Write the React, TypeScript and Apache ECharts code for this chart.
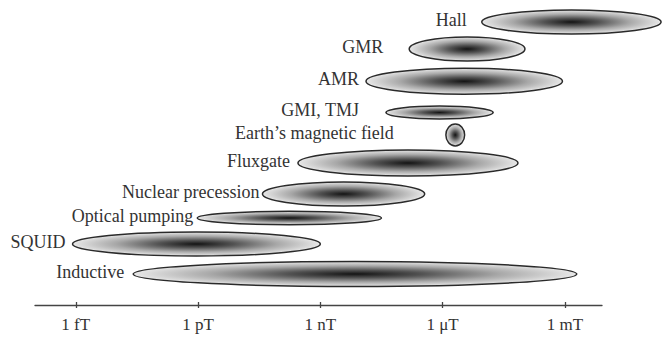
import React, { useEffect, useRef } from "react";
import * as echarts from "echarts";

// Sensor technologies and their measurable field ranges (log10 of tesla)
const sensors = [
  "Hall",
  "GMR",
  "AMR",
  "GMI, TMJ",
  "Earth’s magnetic field",
  "Fluxgate",
  "Nuclear precession",
  "Optical pumping",
  "SQUID",
  "Inductive",
];
const lowExp = [-5.04, -6.82, -7.88, -7.39, -5.92, -9.55, -10.42, -12.02, -15.08, -13.59];
const highExp = [-0.64, -3.98, -3.06, -4.76, -5.46, -4.15, -6.44, -7.5, -9.0, -2.71];
// vertical row level of each band (chart units) and band thickness (chart units)
const rowLevel = [283, 256, 223.7, 192.5, 170, 142, 111, 87, 61, 31];
const bandThickness = [24, 24, 26, 13, 22, 26, 24, 13.4, 24, 25];

const tickValues = [-15, -12, -9, -6, -3];
const tickLabels = ["1 fT", "1 pT", "1 nT", "1 μT", "1 mT"];

// layout: gap between label and band (px)
const LABEL_GAP = [15, 26, 7, 27, 52, 8, 3, 4, 7, 9];

const FONT = '"Liberation Serif", "DejaVu Serif", serif';

export default function App() {
  const ref = useRef<HTMLDivElement>(null);
  useEffect(() => {
    if (!ref.current) return;
    const chart = echarts.init(ref.current, undefined, { renderer: "svg" });
    const data = sensors.map((s, i) => [lowExp[i], highExp[i], rowLevel[i], bandThickness[i], i]);
    chart.setOption({
      animation: false,
      backgroundColor: "#ffffff",
      grid: { left: 35, right: 60, top: 0, bottom: 32, containLabel: false },
      xAxis: [
        {
          type: "value",
          min: -16,
          max: -2.09,
          position: "bottom",
          axisLine: { show: true, lineStyle: { color: "#444", width: 1.3 } },
          axisTick: { show: true, customValues: tickValues, length: 3, lineStyle: { color: "#444", width: 1.3 } },
          axisLabel: {
            show: true,
            customValues: tickValues,
            formatter: (v: number) => {
              const k = tickValues.findIndex((t) => Math.abs(t - v) < 1e-6);
              return k >= 0 ? tickLabels[k] : "";
            },
            margin: 11,
            fontFamily: FONT,
            fontSize: 17,
            color: "#333",
          },
          splitLine: { show: false },
        },
        {
          type: "value",
          min: -16,
          max: -2.09,
          position: "top",
          offset: -305,
          axisLine: { show: false },
          axisTick: { show: true, customValues: tickValues, length: 3, lineStyle: { color: "#444", width: 1.3 } },
          axisLabel: { show: false },
          splitLine: { show: false },
        },
      ],
      yAxis: {
        type: "value",
        min: 0,
        max: 305,
        show: false,
        splitLine: { show: false },
      },
      series: [
        {
          type: "custom",
          xAxisIndex: 0,
          yAxisIndex: 0,
          clip: false,
          encode: { x: [0, 1], y: 2 },
          data,
          renderItem: (params: any, api: any) => {
            const lo = api.value(0);
            const hi = api.value(1);
            const lvl = api.value(2);
            const th = api.value(3);
            const idx = api.value(4);
            const p0 = api.coord([lo, lvl]);
            const p1 = api.coord([hi, lvl]);
            const h = api.size([0, th])[1];
            const cx = (p0[0] + p1[0]) / 2;
            const cy = p0[1];
            const rx = (p1[0] - p0[0]) / 2;
            const ry = h / 2;
            return {
              type: "group",
              children: [
                {
                  type: "ellipse",
                  shape: { cx, cy, rx, ry },
                  style: {
                    fill: new echarts.graphic.RadialGradient(0.5, 0.5, 0.5, [
                      { offset: 0, color: "#141414" },
                      { offset: 0.3, color: "#525252" },
                      { offset: 0.65, color: "#a8a8a8" },
                      { offset: 1, color: "#e8e8e8" },
                    ]),
                    stroke: "#2a2a2a",
                    lineWidth: 1.5,
                  },
                },
                {
                  type: "text",
                  style: {
                    text: sensors[idx],
                    x: p0[0] - LABEL_GAP[idx],
                    y: cy - 2.5,
                    align: "right",
                    verticalAlign: "middle",
                    fontFamily: FONT,
                    fontSize: 18,
                    fill: "#333",
                  },
                },
              ],
            };
          },
        },
      ],
    });
    return () => chart.dispose();
  }, []);
  return (
    <div
      ref={ref}
      style={{ position: "absolute", left: 0, top: 0, width: 662, height: 337 }}
    />
  );
}
